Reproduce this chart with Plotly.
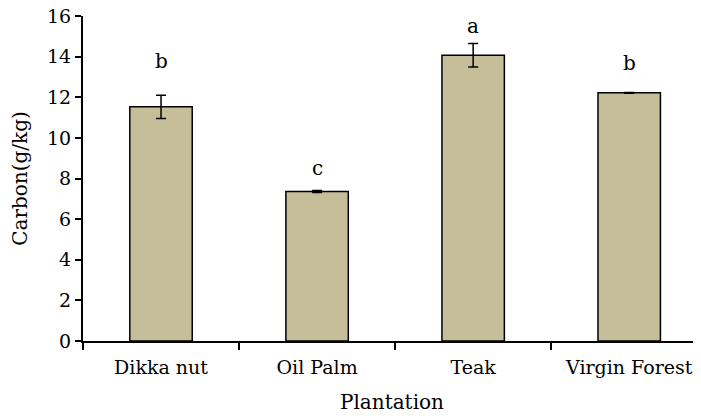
import plotly.graph_objects as go

categories = ["Dikka nut", "Oil Palm", "Teak", "Virgin Forest"]
carbon = [11.53, 7.36, 14.07, 12.22]
carbon_err = [0.57, 0.05, 0.58, 0.02]
letters = ["b", "c", "a", "b"]
letter_y = [13.8, 8.5, 15.5, 13.7]
y_ticks = [0, 2, 4, 6, 8, 10, 12, 14, 16]

FONT = "DejaVu Serif, serif"
FS = 19

fig = go.Figure()
fig.add_trace(go.Bar(
    x=categories, y=carbon,
    width=0.4,
    marker=dict(color="#C5BE99", line=dict(color="black", width=1.5)),
    error_y=dict(type="data", array=carbon_err, visible=True,
                 color="black", thickness=1.5, width=5),
    showlegend=False,
))
for c, l, ly in zip(categories, letters, letter_y):
    fig.add_annotation(x=c, y=ly, text=l, showarrow=False,
                       font=dict(family=FONT, size=20, color="black"))

# page body has an 8px default margin; compensate so the chart sits like the reference
fig.update_layout(
    width=693, height=411,
    margin=dict(l=75, r=0, t=8, b=78),
    paper_bgcolor="white", plot_bgcolor="white",
    font=dict(family=FONT, size=FS, color="black"),
)
fig.update_xaxes(
    type="category", range=[-0.5, 3.46], automargin=False,
    showline=True, linecolor="black", linewidth=2,
    ticks="outside", tickson="boundaries", ticklen=7, tickwidth=1.5, tickcolor="black",
    showgrid=False, zeroline=False,
    ticklabelstandoff=8, ticklabeloverflow="allow",
    tickfont=dict(family=FONT, size=19),
    title=dict(text="Plantation", font=dict(family=FONT, size=20), standoff=18),
)
fig.update_yaxes(
    range=[0, 16], tickvals=y_ticks, automargin=False,
    showline=True, linecolor="black", linewidth=2,
    ticks="outside", ticklen=6, tickwidth=1.5, tickcolor="black",
    showgrid=False, zeroline=False,
    ticklabelstandoff=0, ticklabeloverflow="allow",
    tickfont=dict(family=FONT, size=FS),
    title=dict(text="Carbon(g/kg)", font=dict(family=FONT, size=20), standoff=14),
)
fig.write_html("out.html")
